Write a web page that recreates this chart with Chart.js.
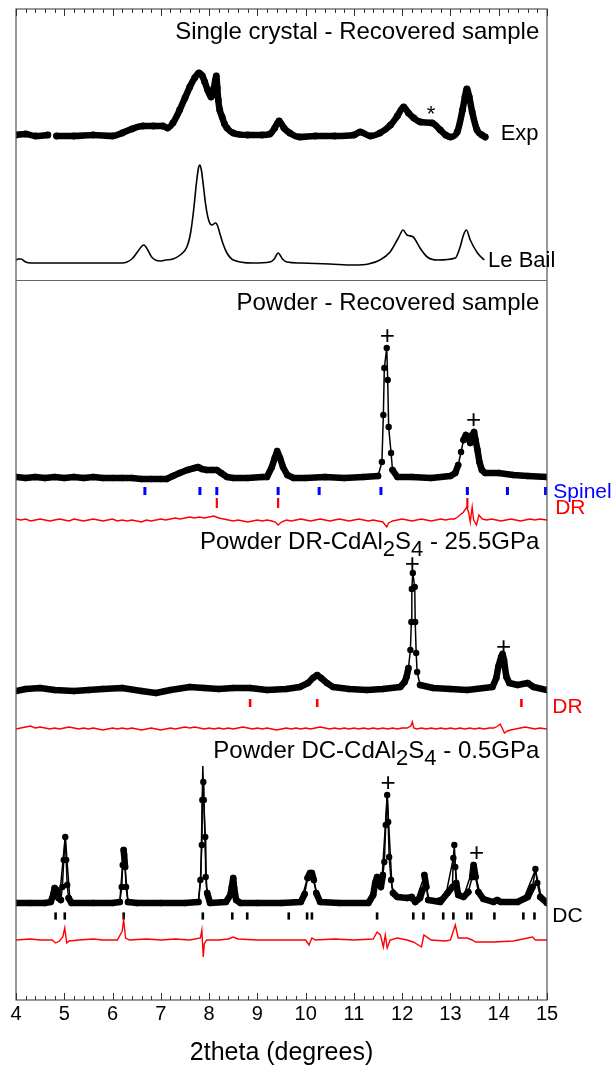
<!DOCTYPE html>
<html>
<head>
<meta charset="utf-8">
<script src="https://cdn.jsdelivr.net/npm/chart.js@4.4.1/dist/chart.umd.min.js"></script>
<style>
  html, body { margin: 0; padding: 0; background: #fff; }
  #wrap { width: 612px; height: 1072px; }
</style>
</head>
<body>
<div id="wrap"><canvas id="chart" width="612" height="1072"></canvas></div>
<script>
// x: 2theta (degrees), y: stacked intensity (arb. units)
const xTicks = [4, 5, 6, 7, 8, 9, 10, 11, 12, 13, 14, 15];

// single crystal, recovered sample
const expObs = [[4.0,865],[4.2,866],[4.4,864],[4.66,865],[4.75,null],[4.84,864],[5.2,864],[5.6,865],[6.0,864],[6.2,867],[6.4,871],[6.63,874],[6.85,874],[7.04,874],[7.14,872],[7.25,877],[7.39,890],[7.5,902],[7.6,913],[7.7,922],[7.79,927],[7.86,924],[7.91,918],[7.97,910],[8.04,903],[8.1,912],[8.15,924],[8.17,912],[8.19,900],[8.22,890],[8.27,883],[8.32,876],[8.37,872],[8.5,867],[8.8,865],[9.1,865],[9.26,866],[9.36,872],[9.45,879],[9.55,872],[9.67,867],[9.88,863],[10.2,864],[10.6,864],[11.0,865],[11.13,868],[11.34,864],[11.54,867],[11.76,875],[11.9,884],[12.03,893],[12.13,887],[12.24,882],[12.38,878],[12.62,877],[12.79,870],[12.9,865],[13.0,863],[13.14,868],[13.25,890],[13.3,903],[13.34,911],[13.39,903],[13.45,888],[13.55,870],[13.65,865],[13.72,863]];
const leBail = [[4.0,740],[4.05,741],[4.1,741],[4.2,738],[4.3,737],[4.6,737],[5.0,737],[5.6,737],[6.2,737],[6.4,741],[6.5,747],[6.65,755],[6.73,750],[6.81,743],[6.98,739],[7.1,740],[7.25,741],[7.4,745],[7.54,753],[7.62,768],[7.68,790],[7.74,818],[7.78,832],[7.81,835],[7.84,830],[7.88,815],[7.93,795],[7.99,780],[8.06,775],[8.13,777],[8.17,775],[8.22,767],[8.29,756],[8.37,747],[8.5,740],[8.91,737],[9.26,738],[9.35,741],[9.43,747],[9.52,741],[9.61,738],[9.9,737],[10.5,736],[11.0,735],[11.3,736],[11.54,740],[11.75,748],[11.92,762],[12.02,770],[12.1,765],[12.23,763],[12.31,757],[12.37,752],[12.52,743],[12.73,740],[13.1,742],[13.2,753],[13.27,765],[13.33,770],[13.41,760],[13.56,747],[13.7,740]];

// powder, recovered sample
const recObs = [[4.0,523],[4.2,522],[4.4,523],[4.6,522],[4.8,523],[5.0,522],[5.2,523],[5.4,522],[5.6,523],[5.8,522],[6.0,522],[6.2,522],[6.4,522],[6.6,521],[6.8,521],[7.0,521],[7.12,521],[7.25,524],[7.39,527],[7.55,530],[7.7,532],[7.77,533],[7.85,531],[7.95,530],[8.05,530],[8.16,530],[8.25,527],[8.37,523],[8.5,522],[8.8,522],[9.1,523],[9.2,523],[9.3,533],[9.36,542],[9.41,549],[9.47,542],[9.53,533],[9.62,525],[9.75,522],[10.0,522],[10.4,523],[10.8,522],[11.2,523],[11.5,524],[11.58,538],[11.61,585],[11.63,632],[11.68,652],[11.70,620],[11.72,573],[11.77,547],[11.80,530],[11.9,523],[12.2,523],[12.6,522],[13.0,524],[13.1,527],[13.16,535],[13.22,548],[13.27,560],[13.32,565],[13.37,562],[13.41,557],[13.45,565],[13.49,568],[13.52,560],[13.56,550],[13.6,538],[13.65,530],[13.72,527],[14.0,527],[14.3,525],[14.6,524],[15.0,523]];
const recDiff = [[4.0,481],[4.1,480],[4.2,481],[4.3,479],[4.4,480],[4.5,481],[4.6,480],[4.7,479],[4.8,480],[4.9,481],[5.0,480],[5.1,479],[5.2,481],[5.3,480],[5.4,479],[5.5,480],[5.6,481],[5.7,480],[5.8,479],[5.9,480],[6.0,481],[6.1,479],[6.2,480],[6.3,479],[6.4,480],[6.5,479],[6.6,478],[6.7,480],[6.8,479],[6.9,480],[7.0,481],[7.1,480],[7.2,481],[7.3,482],[7.4,481],[7.5,482],[7.6,483],[7.7,482],[7.8,483],[7.9,482],[8.0,483],[8.1,484],[8.2,482],[8.3,481],[8.4,480],[8.5,479],[8.6,480],[8.7,479],[8.8,478],[8.9,479],[9.0,480],[9.1,479],[9.2,480],[9.3,479],[9.37,478],[9.43,475],[9.5,478],[9.6,480],[9.7,479],[9.8,480],[9.9,481],[10.0,480],[10.1,479],[10.2,480],[10.3,481],[10.4,480],[10.5,479],[10.6,480],[10.7,481],[10.8,480],[10.9,479],[11.0,480],[11.1,481],[11.2,480],[11.3,479],[11.4,480],[11.5,479],[11.6,478],[11.68,473],[11.72,477],[11.8,479],[11.9,480],[12.0,481],[12.1,480],[12.2,479],[12.3,480],[12.4,481],[12.5,480],[12.6,479],[12.7,480],[12.8,481],[12.9,480],[13.0,481],[13.08,481],[13.15,483],[13.27,488],[13.34,493],[13.38,487],[13.41,478],[13.45,493],[13.48,480],[13.54,475],[13.59,485],[13.66,481],[13.75,480],[13.85,481],[13.95,480],[14.05,479],[14.15,480],[14.25,481],[14.35,480],[14.45,479],[14.55,480],[14.65,481],[14.75,480],[14.85,481],[15.0,480]];
const spinelPeaks = [6.67, 7.81, 8.16, 9.43, 10.28, 11.56, 13.35, 14.18, 14.97];
const recDrPeaks = [8.16, 9.43, 13.35];

// powder DR-CdAl2S4, 25.5 GPa
const drObs = [[4.0,309],[4.2,311],[4.5,312],[4.8,310],[5.2,309],[5.5,310],[5.8,311],[6.2,312],[6.6,309],[6.9,307],[7.2,310],[7.6,313],[7.9,312],[8.2,311],[8.5,312],[8.85,312],[9.2,310],[9.6,311],[9.88,313],[10.05,317],[10.15,322],[10.24,325],[10.32,322],[10.44,317],[10.57,313],[10.9,311],[11.27,310],[11.6,311],[11.96,313],[12.05,318],[12.09,323],[12.13,332],[12.17,350],[12.19,378],[12.20,411],[12.22,427],[12.26,413],[12.27,378],[12.29,347],[12.31,328],[12.37,315],[12.64,312],[13.0,311],[13.35,310],[13.87,313],[13.95,322],[13.99,333],[14.05,343],[14.08,346],[14.11,340],[14.13,332],[14.16,323],[14.22,317],[14.39,315],[14.6,317],[14.72,313],[15.0,310]];
const drDiff = [[4.0,271],[4.1,272],[4.2,273],[4.3,274],[4.4,272],[4.5,273],[4.6,272],[4.7,271],[4.8,272],[4.9,271],[5.0,272],[5.1,273],[5.2,272],[5.3,271],[5.4,272],[5.5,271],[5.6,272],[5.7,271],[5.8,270],[5.9,271],[6.0,272],[6.1,271],[6.2,272],[6.3,271],[6.4,272],[6.5,271],[6.6,270],[6.7,271],[6.8,272],[6.9,271],[7.0,270],[7.1,271],[7.2,272],[7.3,271],[7.4,272],[7.5,273],[7.6,272],[7.7,273],[7.8,272],[7.9,271],[8.0,272],[8.1,271],[8.2,272],[8.3,271],[8.4,272],[8.5,271],[8.6,272],[8.7,273],[8.8,272],[8.9,271],[9.0,272],[9.1,271],[9.2,272],[9.3,271],[9.4,270],[9.5,271],[9.6,272],[9.7,271],[9.8,272],[9.9,271],[10.0,272],[10.1,271],[10.2,272],[10.3,273],[10.4,272],[10.5,271],[10.6,272],[10.7,271],[10.8,272],[10.9,271],[11.0,272],[11.1,271],[11.2,272],[11.3,271],[11.4,272],[11.5,271],[11.6,272],[11.7,271],[11.8,272],[11.9,271],[12.0,272],[12.1,272],[12.18,274],[12.21,278],[12.24,272],[12.3,271],[12.4,272],[12.5,271],[12.6,272],[12.7,271],[12.8,272],[12.9,271],[13.0,272],[13.1,271],[13.2,272],[13.3,271],[13.4,272],[13.5,271],[13.6,272],[13.7,271],[13.8,272],[13.9,272],[13.98,274],[14.03,276],[14.08,271],[14.12,267],[14.18,269],[14.25,270],[14.35,271],[14.45,272],[14.55,273],[14.65,272],[14.75,271],[14.85,272],[15.0,271]];
const drPeaks = [8.85, 10.24, 14.47];

// powder DC-CdAl2S4, 0.5 GPa
const dcObs = [[4.0,97],[4.3,97],[4.6,97],[4.72,98],[4.77,105],[4.8,112],[4.84,110],[4.88,102],[4.93,100],[4.96,113],[4.99,140],[5.02,163],[5.04,140],[5.06,115],[5.09,102],[5.15,97],[5.6,97],[6.0,97],[6.15,98],[6.19,113],[6.21,135],[6.23,150],[6.24,145],[6.26,133],[6.28,113],[6.32,98],[6.5,97],[7.0,97],[7.5,97],[7.78,98],[7.82,120],[7.85,155],[7.86,200],[7.88,218],[7.89,200],[7.92,163],[7.93,123],[7.96,107],[8.02,97],[8.35,98],[8.44,105],[8.47,113],[8.5,122],[8.52,112],[8.56,100],[8.65,97],[9.0,97],[9.5,97],[9.9,98],[9.98,106],[10.04,122],[10.09,127],[10.13,127],[10.17,120],[10.22,107],[10.3,98],[10.7,97],[11.3,97],[11.4,105],[11.44,117],[11.48,123],[11.52,117],[11.56,113],[11.6,125],[11.63,138],[11.66,175],[11.69,205],[11.71,178],[11.73,143],[11.77,120],[11.81,107],[11.9,103],[12.1,102],[12.2,103],[12.27,98],[12.37,102],[12.42,110],[12.46,125],[12.5,113],[12.54,100],[12.79,98],[12.94,107],[13.04,113],[13.06,142],[13.08,155],[13.1,133],[13.12,117],[13.16,105],[13.27,103],[13.37,108],[13.45,123],[13.48,135],[13.52,123],[13.58,108],[13.68,101],[13.89,98],[13.97,100],[14.04,98],[14.39,98],[14.6,103],[14.7,113],[14.76,131],[14.8,117],[14.86,103],[15.0,97]];
const dcCalc = [[4.0,97],[4.72,98],[4.8,112],[4.9,101],[5.02,164],[5.12,98],[6.15,98],[6.23,150],[6.32,98],[7.78,98],[7.83,125],[7.87,234],[7.91,170],[7.95,112],[8.05,98],[8.4,99],[8.5,121],[8.6,98],[9.9,98],[10.05,124],[10.12,127],[10.28,99],[11.35,98],[11.48,121],[11.57,112],[11.69,205],[11.79,112],[11.95,103],[12.27,98],[12.46,124],[12.56,99],[12.9,104],[13.08,147],[13.14,112],[13.27,103],[13.48,134],[13.62,104],[13.9,99],[14.5,99],[14.76,130],[14.9,99],[15.0,97]];
const dcDiff = [[4.0,60],[4.3,61],[4.5,60],[4.75,60],[4.82,57],[4.9,59],[4.97,63],[5.01,72],[5.05,57],[5.1,59],[5.3,60],[5.6,61],[5.8,60],[6.1,60],[6.2,69],[6.23,80],[6.27,62],[6.35,60],[6.7,61],[7.0,60],[7.3,61],[7.6,60],[7.82,62],[7.85,70],[7.88,43],[7.9,56],[7.95,60],[8.2,60],[8.4,61],[8.5,63],[8.6,61],[9.0,60],[9.6,60],[10.0,60],[10.07,55],[10.13,62],[10.2,60],[10.6,61],[11.0,60],[11.4,61],[11.48,68],[11.55,65],[11.61,53],[11.65,65],[11.69,52],[11.75,60],[11.9,62],[12.1,60],[12.23,58],[12.4,53],[12.45,65],[12.6,60],[12.9,59],[13.0,60],[13.1,75],[13.16,62],[13.35,62],[13.45,60],[13.52,58],[13.9,58],[14.3,59],[14.7,63],[14.76,60],[15.0,60]];
const dcPeaks = [4.82, 5.01, 6.23, 7.87, 8.48, 8.79, 9.65, 10.03, 10.13, 11.48, 12.23, 12.44, 12.85, 13.06, 13.35, 13.43, 13.91, 14.51, 14.74];

const FONT = '"Liberation Sans", Arial, sans-serif';
const RED = "#ff0000";
const BLUE = "#0000ff";

const pts = (arr) => arr.map(([x, y]) => ({ x, y }));
const marks = (list, level) => list.map((x) => ({ x, y: level }));

// thick band of merged dots where the pattern is flat, thin line on steep flanks
const band = (c) => (Math.abs(c.p1.y - c.p0.y) > 12 ? 1.5 : 6.5);

function obsSet(data) {
  return {
    data: pts(data),
    borderColor: "#000",
    backgroundColor: "#000",
    pointRadius: 3.2,
    pointBorderWidth: 0,
    borderCapStyle: "round",
    borderJoinStyle: "round",
    segment: { borderWidth: band },
  };
}
function lineSet(data, color, width, smooth) {
  return {
    data: pts(data), borderColor: color, borderWidth: width, pointRadius: 0,
    cubicInterpolationMode: smooth ? "monotone" : "default",
  };
}
function markSet(list, level, color, width, half) {
  return {
    data: marks(list, level),
    showLine: false,
    pointStyle: "line",
    rotation: 90,
    pointRadius: half,
    pointBorderWidth: width,
    borderColor: color,
    backgroundColor: color,
  };
}

const datasets = [
  {
    data: pts(expObs), borderColor: "#000", backgroundColor: "#000",
    borderWidth: 6.5, pointRadius: 3.4, pointBorderWidth: 0,
    borderCapStyle: "round", borderJoinStyle: "round", spanGaps: false,
    cubicInterpolationMode: "monotone",
  },
  lineSet(leBail, "#000", 1.6, true),
  obsSet(recObs),
  lineSet(recDiff, RED, 1.4),
  markSet(spinelPeaks, 509, BLUE, 3, 4),
  markSet(recDrPeaks, 497, RED, 2.2, 5),
  obsSet(drObs),
  lineSet(drDiff, RED, 1.4),
  markSet(drPeaks, 297, RED, 2.6, 4),
  lineSet(dcCalc, "#000", 1.5),
  obsSet(dcObs),
  lineSet(dcDiff, RED, 1.4),
  markSet(dcPeaks, 84, "#000", 2.6, 3.6),
];

function text(ctx, x, y, str, xv, yv, opts) {
  const o = Object.assign({ size: 24, color: "#000", align: "left" }, opts);
  ctx.font = o.size + "px " + FONT;
  ctx.fillStyle = o.color;
  ctx.textAlign = o.align;
  ctx.textBaseline = "middle";
  ctx.fillText(str, x.getPixelForValue(xv), y.getPixelForValue(yv) + 1);
}

// right aligned text with chemical subscripts
function formula(ctx, x, y, parts, xv, yv) {
  const size = 24, subSize = 22;
  let w = 0;
  parts.forEach((p, i) => {
    ctx.font = (i % 2 ? subSize : size) + "px " + FONT;
    w += ctx.measureText(p).width;
  });
  let px = x.getPixelForValue(xv) - w;
  const py = y.getPixelForValue(yv) + 1;
  ctx.textAlign = "left";
  ctx.textBaseline = "middle";
  ctx.fillStyle = "#000";
  parts.forEach((p, i) => {
    ctx.font = (i % 2 ? subSize : size) + "px " + FONT;
    ctx.fillText(p, px, i % 2 ? py + 8 : py);
    px += ctx.measureText(p).width;
  });
}

const decorations = {
  id: "decorations",
  afterDatasetsDraw(chart) {
    const { ctx, chartArea: a, scales: { x, y } } = chart;
    ctx.save();
    ctx.strokeStyle = "#555";
    ctx.lineWidth = 1.2;
    ctx.strokeRect(a.left, a.top, a.right - a.left, a.bottom - a.top);

    const yd = Math.round(y.getPixelForValue(720)) + 0.5;
    ctx.strokeStyle = "#666";
    ctx.beginPath();
    ctx.moveTo(a.left, yd);
    ctx.lineTo(a.right, yd);
    ctx.stroke();

    ctx.strokeStyle = "#333";
    ctx.lineWidth = 1;
    for (let i = 0; i <= 55; i++) {
      const px = Math.round(x.getPixelForValue(4 + i * 0.2)) + 0.5;
      const len = i % 5 === 0 ? 7 : 4;
      ctx.beginPath();
      ctx.moveTo(px, a.bottom);
      ctx.lineTo(px, a.bottom - len);
      ctx.moveTo(px, a.top);
      ctx.lineTo(px, a.top + len);
      ctx.stroke();
    }

    text(ctx, x, y, "Single crystal - Recovered sample", 14.84, 969, { align: "right" });
    text(ctx, x, y, "*", 12.6, 886, { align: "center", size: 22 });
    text(ctx, x, y, "Exp", 14.04, 867, { size: 22 });
    text(ctx, x, y, "Le Bail", 13.78, 740, { size: 22 });

    text(ctx, x, y, "Powder - Recovered sample", 14.84, 698, { align: "right" });
    text(ctx, x, y, "+", 11.69, 664, { align: "center", size: 26 });
    text(ctx, x, y, "+", 13.48, 580, { align: "center", size: 26 });
    text(ctx, x, y, "Spinel", 15.13, 509, { size: 21, color: BLUE });
    text(ctx, x, y, "DR", 15.17, 493, { size: 21, color: RED });

    formula(ctx, x, y, ["Powder DR-CdAl", "2", "S", "4", " - 25.5GPa"], 14.84, 459);
    text(ctx, x, y, "+", 12.21, 436, { align: "center", size: 26 });
    text(ctx, x, y, "+", 14.10, 353, { align: "center", size: 26 });
    text(ctx, x, y, "DR", 15.11, 294, { size: 21, color: RED });

    formula(ctx, x, y, ["Powder DC-CdAl", "2", "S", "4", " - 0.5GPa"], 14.84, 250);
    text(ctx, x, y, "+", 11.71, 217, { align: "center", size: 26 });
    text(ctx, x, y, "+", 13.54, 147, { align: "center", size: 26 });
    text(ctx, x, y, "DC", 15.11, 85, { size: 21 });
    ctx.restore();
  },
};

new Chart(document.getElementById("chart").getContext("2d"), {
  type: "line",
  data: { datasets },
  options: {
    responsive: false,
    animation: false,
    devicePixelRatio: 1,
    layout: { padding: { left: 16, right: 65, top: 9, bottom: 0 } },
    plugins: { legend: { display: false }, tooltip: { enabled: false } },
    elements: { line: { tension: 0 } },
    scales: {
      x: {
        type: "linear",
        min: 4,
        max: 15,
        afterFit: (s) => { s.height = 72; },
        afterBuildTicks: (s) => { s.ticks = xTicks.map((v) => ({ value: v })); },
        grid: { display: false },
        border: { display: false },
        ticks: { autoSkip: false, maxRotation: 0, padding: -6, color: "#000", font: { family: FONT, size: 20 } },
        title: {
          display: true,
          text: "2theta (degrees)",
          color: "#000",
          font: { family: FONT, size: 25 },
          padding: { top: 0, bottom: 4 },
        },
      },
      y: { display: false, min: 0, max: 991 },
    },
  },
  plugins: [decorations],
});
</script>
</body>
</html>
